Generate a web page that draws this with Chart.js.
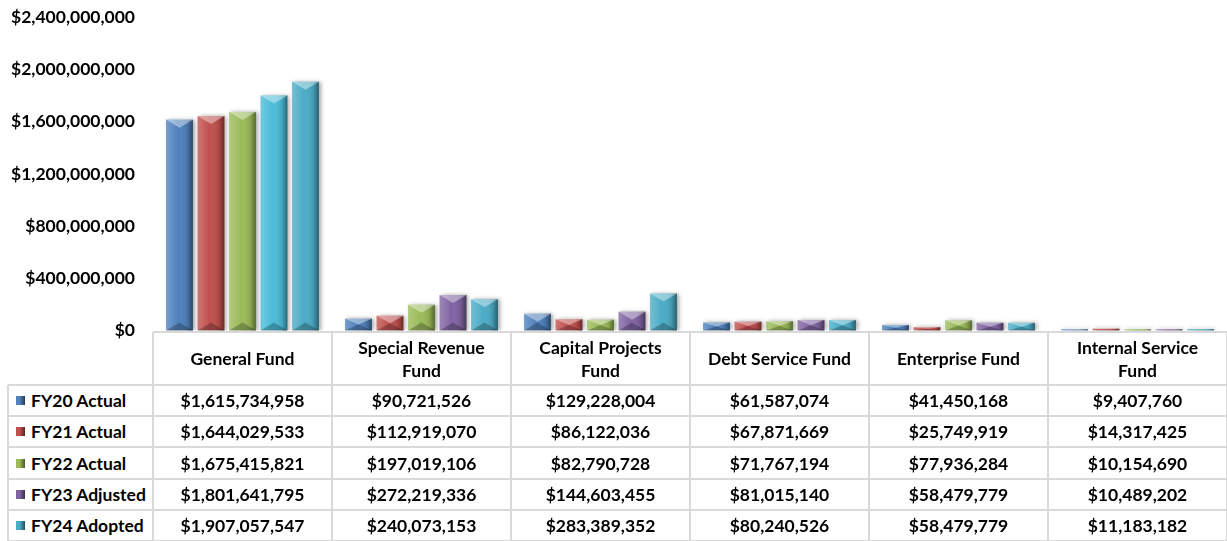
<!DOCTYPE html>
<html>
<head>
<meta charset="utf-8">
<script src="https://cdn.jsdelivr.net/npm/chart.js@4/dist/chart.umd.min.js"></script>
<style>
  body { margin: 0; background: #fff; font-family: Lato, sans-serif; }
  #wrap { position: relative; width: 1227px; height: 541px; overflow: hidden; }
  #chart { position: absolute; left: 0; top: -11px; }
  .cell { position: absolute; box-sizing: border-box; display: flex; align-items: center;
          justify-content: center; text-align: center; font-weight: bold; font-size: 17.5px;
          color: #000; line-height: 23px; white-space: pre-line; }
  .leg { justify-content: flex-start; padding-left: 8px; }
  .mark { width: 9px; height: 9px; margin-right: 6px; flex: none; }
  .line { position: absolute; background: #d9d9d9; }
</style>
</head>
<body>
<div id="wrap">
  <canvas id="chart" width="1227" height="370"></canvas>
</div>
<script>
const categories = ['General Fund', 'Special Revenue\nFund', 'Capital Projects\nFund',
                    'Debt Service Fund', 'Enterprise Fund', 'Internal Service\nFund'];
const seriesNames = ['FY20 Actual', 'FY21 Actual', 'FY22 Actual', 'FY23 Adjusted', 'FY24 Adopted'];
const fy20 = [1615734958, 90721526, 129228004, 61587074, 41450168, 9407760];
const fy21 = [1644029533, 112919070, 86122036, 67871669, 25749919, 14317425];
const fy22 = [1675415821, 197019106, 82790728, 71767194, 77936284, 10154690];
const fy23 = [1801641795, 272219336, 144603455, 81015140, 58479779, 10489202];
const fy24 = [1907057547, 240073153, 283389352, 80240526, 58479779, 11183182];
const yTicks = [0, 400000000, 800000000, 1200000000, 1600000000, 2000000000, 2400000000];

const colors = ['#4f81bd', '#c0504d', '#9bbb59', '#8064a2', '#4bacc6'];
const series = [fy20, fy21, fy22, fy23, fy24];

function money(v) { return '$' + Math.round(v).toLocaleString('en-US'); }

// 3D-ish bevel painted over each bar
const bevel = {
  id: 'bevel',
  beforeDatasetsDraw(chart) {
    const ctx = chart.ctx;
    ctx.save();
    ctx.shadowColor = 'rgba(0,0,0,0.35)';
    ctx.shadowBlur = 4;
    ctx.shadowOffsetX = 2;
  },
  afterDatasetsDraw(chart) {
    const ctx = chart.ctx;
    ctx.restore();
    chart.data.datasets.forEach((ds, di) => {
      chart.getDatasetMeta(di).data.forEach(bar => {
        const x0 = bar.x - bar.width / 2, x1 = bar.x + bar.width / 2;
        const top = bar.y, bot = bar.base, h = bot - top;
        if (h < 1) return;
        const b = Math.min(bar.width * 0.3, h / 2);
        ctx.save();
        const g = ctx.createLinearGradient(x0, 0, x1, 0);
        g.addColorStop(0, 'rgba(255,255,255,0.22)');
        g.addColorStop(0.45, 'rgba(255,255,255,0)');
        g.addColorStop(0.8, 'rgba(0,0,0,0.12)');
        g.addColorStop(1, 'rgba(0,0,0,0.45)');
        ctx.fillStyle = g;
        ctx.fillRect(x0, top, x1 - x0, h);
        ctx.fillStyle = 'rgba(255,255,255,0.4)';
        ctx.beginPath();
        ctx.moveTo(x0, top); ctx.lineTo(x1, top); ctx.lineTo(bar.x, top + b); ctx.closePath();
        ctx.fill();
        ctx.fillStyle = 'rgba(0,0,0,0.25)';
        ctx.beginPath();
        ctx.moveTo(x0, bot); ctx.lineTo(x1, bot); ctx.lineTo(bar.x, bot - b); ctx.closePath();
        ctx.fill();
        ctx.restore();
      });
    });
  }
};

const chart = new Chart(document.getElementById('chart'), {
  type: 'bar',
  data: {
    labels: categories,
    datasets: seriesNames.map((name, i) => ({
      label: name,
      data: series[i],
      // the General Fund FY23 bar is shown in light cyan in the original
      backgroundColor: i === 3 ? categories.map((c, j) => j === 0 ? '#4bbcd9' : colors[3]) : colors[i],
      categoryPercentage: 0.88,
      barPercentage: 0.85
    }))
  },
  plugins: [bevel],
  options: {
    responsive: false,
    animation: false,
    layout: { padding: { top: 8, bottom: 2, right: 0 } },
    plugins: { legend: { display: false }, tooltip: { enabled: false } },
    scales: {
      x: { display: false },
      y: {
        min: 0, max: 2400000000,
        afterBuildTicks(scale) { scale.ticks = yTicks.map(v => ({ value: v })); },
        afterFit(scale) { scale.width = 153; },
        grid: { display: false, drawTicks: false },
        border: { display: false },
        ticks: {
          padding: 18, color: '#000',
          font: { family: 'Lato', weight: 'bold', size: 17.5 },
          callback: v => money(v)
        }
      }
    }
  }
});

// data table under the chart, aligned to the category scale
const wrap = document.getElementById('wrap');
const area = chart.chartArea;
const catW = (area.right - area.left) / categories.length;
const headTop = 332, rowTops = [385, 416, 447, 479, 510, 541];
const legLeft = 8;

function addDiv(cls, l, t, w, h, html) {
  const d = document.createElement('div');
  d.className = cls;
  Object.assign(d.style, { left: l + 'px', top: t + 'px', width: w + 'px', height: h + 'px' });
  if (html !== undefined) d.innerHTML = html;
  wrap.appendChild(d);
  return d;
}

categories.forEach((c, j) => {
  const l = area.left + j * catW;
  addDiv('cell', l, headTop, catW, rowTops[0] - headTop).textContent = c;
  seriesNames.forEach((s, i) => {
    addDiv('cell', l, rowTops[i], catW, rowTops[i + 1] - rowTops[i]).textContent = money(series[i][j]);
  });
});
seriesNames.forEach((s, i) => {
  const d = addDiv('cell leg', legLeft, rowTops[i], area.left - legLeft, rowTops[i + 1] - rowTops[i]);
  const m = document.createElement('span');
  m.className = 'mark';
  m.style.background = 'linear-gradient(90deg,' + colors[i] + ' 40%, rgba(0,0,0,0.55))';
  m.style.backgroundColor = colors[i];
  d.appendChild(m);
  d.appendChild(document.createTextNode(s));
});

// grid lines
const right = area.left + categories.length * catW;
addDiv('line', area.left, headTop - 1, right - area.left, 2);
rowTops.forEach(t => addDiv('line', legLeft, t - 1, right - legLeft, 2));
addDiv('line', legLeft - 1, rowTops[0], 2, rowTops[5] - rowTops[0]);
for (let j = 0; j <= categories.length; j++) {
  addDiv('line', area.left + j * catW - 1, headTop, 2, rowTops[5] - headTop);
}
</script>
</body>
</html>
